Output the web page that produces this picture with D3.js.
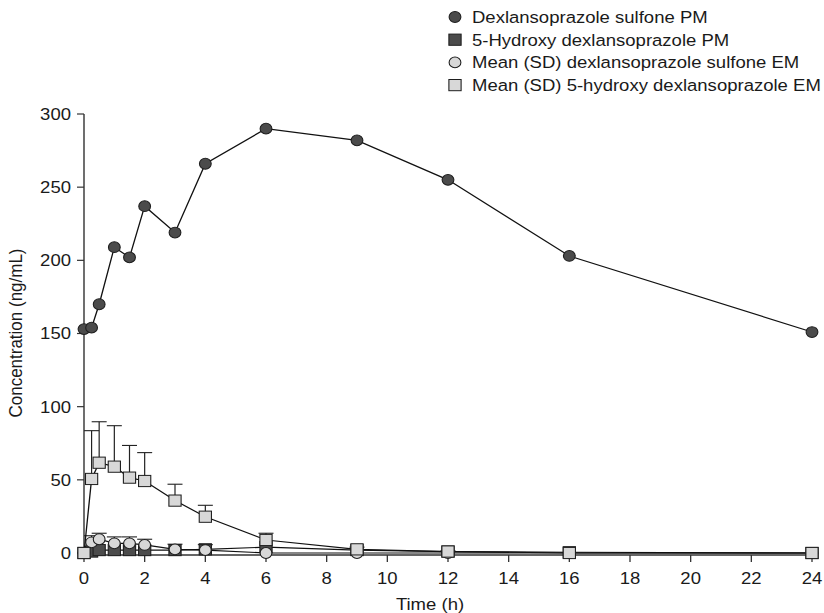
<!DOCTYPE html>
<html>
<head>
<meta charset="utf-8">
<script src="https://cdn.jsdelivr.net/npm/d3@7"></script>
<style>
html,body{margin:0;padding:0;background:#fff;}
svg text{font-family:"Liberation Sans",Arial,Helvetica,sans-serif;fill:#1a1a1a;}
</style>
</head>
<body>
<svg id="chart" width="824" height="613"></svg>
<script>
// ---- data ----
const times = [0, 0.25, 0.5, 1, 1.5, 2, 3, 4, 6, 9, 12, 16, 24];
const pmSulfone = [153, 154, 170, 209, 202, 237, 219, 266, 290, 282, 255, 203, 151];
const pmHydroxy = [0, 1, 2, 2, 2, 2, 2, 2.5, 4, 2, 1, 0.5, 0];
const emSulfone = [0, 7.3, 9.4, 6.6, 6.6, 5.5, 2.5, 2, 0, 0, 0, 0, 0];
const emSulfoneSD = [0, 4.5, 4.1, 4.4, 4.4, 3.9, 3.5, 3.7, 0, 0, 0, 0, 0];
const emHydroxy = [0, 50.6, 61.7, 59, 51.5, 49.2, 35.8, 24.8, 8.9, 2.5, 1, 0, 0];
const emHydroxySD = [0, 33, 28, 28, 22, 19.4, 11.2, 7.8, 4.6, 1.5, 0.5, 0, 0];
const xTicks = [0, 2, 4, 6, 8, 10, 12, 14, 16, 18, 20, 22, 24];
const yTicks = [0, 50, 100, 150, 200, 250, 300];
const legendLabels = [
  "Dexlansoprazole sulfone PM",
  "5-Hydroxy dexlansoprazole PM",
  "Mean (SD) dexlansoprazole sulfone EM",
  "Mean (SD) 5-hydroxy dexlansoprazole EM"
];

// ---- layout ----
const sx = 1.09; // horizontal stretch of the original figure
const svg = d3.select("#chart");
const g = svg.append("g").attr("transform", `scale(${sx},1)`);
const X = px => px / sx;

const x = d3.scaleLinear().domain([0, 24]).range([X(84), X(812)]);
const y = d3.scaleLinear().domain([0, 300]).range([553, 114]);

const darkFill = "#4b4b4b", lightFill = "#d8d8d8", strokeC = "#1e1e1e";
const fontSize = 17;

// axes
const axisY = 555;
g.append("line").attr("x1", X(84)).attr("x2", X(84)).attr("y1", y(300)).attr("y2", axisY)
  .attr("stroke", "#333").attr("stroke-width", 1.3);
g.append("line").attr("x1", X(84)).attr("x2", X(812)).attr("y1", axisY).attr("y2", axisY)
  .attr("stroke", "#333").attr("stroke-width", 1.3);

yTicks.forEach(t => {
  g.append("line").attr("x1", X(77)).attr("x2", X(84)).attr("y1", y(t)).attr("y2", y(t))
    .attr("stroke", "#333").attr("stroke-width", 1.2);
  g.append("text").attr("x", X(71)).attr("y", y(t) + 6).attr("text-anchor", "end")
    .attr("font-size", fontSize).text(t);
});
xTicks.forEach(t => {
  g.append("line").attr("x1", x(t)).attr("x2", x(t)).attr("y1", axisY).attr("y2", axisY + 7)
    .attr("stroke", "#333").attr("stroke-width", 1.2);
  g.append("text").attr("x", x(t)).attr("y", 584).attr("text-anchor", "middle")
    .attr("font-size", fontSize).text(t);
});
g.append("text").attr("x", X(430)).attr("y", 610).attr("text-anchor", "middle")
  .attr("font-size", fontSize).text("Time (h)");
g.append("text").attr("transform", `translate(${X(22)},333) rotate(-90)`)
  .attr("text-anchor", "middle").attr("font-size", fontSize).text("Concentration (ng/mL)");

// series
const series = [
  {vals: pmSulfone, sd: null, shape: "circle", fill: darkFill},
  {vals: pmHydroxy, sd: null, shape: "square", fill: darkFill},
  {vals: emSulfone, sd: emSulfoneSD, shape: "circle", fill: lightFill},
  {vals: emHydroxy, sd: emHydroxySD, shape: "square", fill: lightFill}
];
const line = d3.line().x(d => x(d[0])).y(d => y(d[1]));
const r = 5.4, half = 5.6, capHalf = X(7.5);

function drawMarker(sel, shape, cx, cy, fill) {
  if (shape === "circle") {
    sel.append("circle").attr("cx", cx).attr("cy", cy).attr("r", r)
      .attr("fill", fill).attr("stroke", strokeC).attr("stroke-width", 1);
  } else {
    sel.append("rect").attr("x", cx - half).attr("y", cy - half).attr("width", 2 * half).attr("height", 2 * half)
      .attr("fill", fill).attr("stroke", strokeC).attr("stroke-width", 1);
  }
}

series.forEach(s => {
  const pts = times.map((t, i) => [t, s.vals[i]]);
  const sg = g.append("g");
  sg.append("path").attr("d", line(pts)).attr("fill", "none").attr("stroke", "#111").attr("stroke-width", 1.2);
  if (s.sd) {
    times.forEach((t, i) => {
      if (s.sd[i] <= 0) return;
      const top = y(s.vals[i] + s.sd[i]);
      sg.append("line").attr("x1", x(t)).attr("x2", x(t)).attr("y1", y(s.vals[i])).attr("y2", top)
        .attr("stroke", "#222").attr("stroke-width", 1.1);
      sg.append("line").attr("x1", x(t) - capHalf).attr("x2", x(t) + capHalf).attr("y1", top).attr("y2", top)
        .attr("stroke", "#222").attr("stroke-width", 1.1);
    });
  }
  pts.forEach(p => drawMarker(sg, s.shape, x(p[0]), y(p[1]), s.fill));
});

// legend
const lg = g.append("g");
legendLabels.forEach((lab, i) => {
  const cy = 17 + i * 22.7;
  drawMarker(lg, series[i].shape, X(455), cy, series[i].fill);
  lg.append("text").attr("x", X(472)).attr("y", cy + 6).attr("font-size", fontSize).text(lab);
});
</script>
</body>
</html>
